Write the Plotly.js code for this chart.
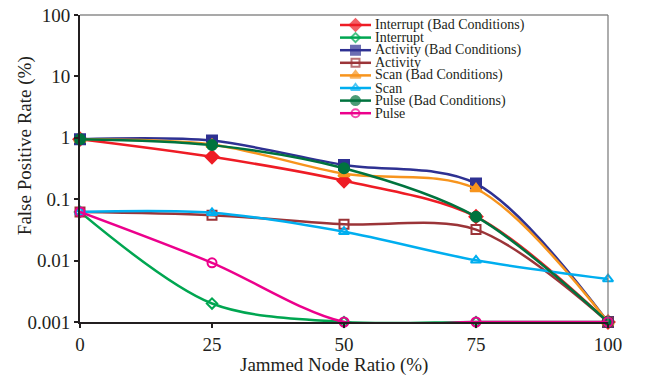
<!DOCTYPE html>
<html>
<head>
<meta charset="utf-8">
<script src="https://cdn.plot.ly/plotly-3.0.1.min.js"></script>
</head>
<body style="margin:0;padding:0;background:#fff">
<div id="chart" style="width:654px;height:376px"></div>
<script>
// ---- data ----
var ratios = [0, 25, 50, 75, 100];
var seriesNames = ["Interrupt (Bad Conditions)", "Interrupt", "Activity (Bad Conditions)", "Activity",
                   "Scan (Bad Conditions)", "Scan", "Pulse (Bad Conditions)", "Pulse"];
var interruptBad = [0.95, 0.49, 0.20, 0.052, 0.001];
var interrupt    = [0.062, 0.0020, 0.001, 0.001, 0.001];
var activityBad  = [0.95, 0.90, 0.36, 0.18, 0.001];
var activity     = [0.062, 0.055, 0.039, 0.032, 0.001];
var scanBad      = [0.95, 0.78, 0.26, 0.148, 0.001];
var scan         = [0.062, 0.060, 0.0295, 0.0101, 0.005];
var pulseBad     = [0.95, 0.76, 0.32, 0.052, 0.001];
var pulse        = [0.062, 0.0092, 0.001, 0.001, 0.001];
var yTickVals = [0.001, 0.01, 0.1, 1, 10, 100];
var yTickText = ["0.001", "0.01", "0.1", "1", "10", "100"];
var xTickVals = [0, 25, 50, 75, 100];
var xTitle = "Jammed Node Ratio (%)";
var yTitle = "False Positive Rate (%)";

// ---- styles ----
var values  = [interruptBad, interrupt, activityBad, activity, scanBad, scan, pulseBad, pulse];
var colors  = ["#ee1c25", "#00a651", "#2e3192", "#9b3438", "#f7941d", "#00aeef", "#00733e", "#ec008c"];
var symbols = ["diamond", "diamond-open", "square", "square-open", "triangle-up", "triangle-up-open", "circle", "circle-open"];
var sizes   = [10, 8, 10, 9, 10, 9, 10, 9];
var FONT = "Times New Roman";
var TXT = "#231f20";

var traces = [];
values.forEach(function (v, i) {
  traces.push({
    x: ratios, y: v, name: seriesNames[i], type: "scatter", mode: "lines+markers",
    line: {color: colors[i], width: 2.5, shape: "spline", smoothing: 0.9},
    marker: {symbol: symbols[i], size: sizes[i], color: colors[i], line: {color: colors[i], width: 2}},
    cliponaxis: false, showlegend: false, xaxis: "x", yaxis: "y"
  });
});

// ---- custom compact legend (overlay axes in pixel-like units) ----
var legX0 = 340, legX1 = 371, legTextX = 373, legY0 = 25, legDy = 12.6;
var annotations = [];
seriesNames.forEach(function (n, i) {
  var yy = legY0 + legDy * i;
  traces.push({
    x: [legX0, (legX0 + legX1) / 2, legX1], y: [yy, yy, yy], type: "scatter", mode: "lines+markers",
    line: {color: colors[i], width: 2.5},
    marker: {symbol: symbols[i], size: [0, sizes[i] - 1, 0], color: colors[i], line: {color: colors[i], width: 2}},
    showlegend: false, hoverinfo: "skip", xaxis: "x2", yaxis: "y2", cliponaxis: false
  });
  annotations.push({
    x: legTextX, y: yy, xref: "x2", yref: "y2", text: n, showarrow: false,
    xanchor: "left", yanchor: "middle", font: {family: FONT, size: 14, color: TXT}
  });
});

// axis titles as annotations (placed like the reference)
annotations.push({
  x: 0.481, y: -0.14, xref: "paper", yref: "paper", text: xTitle, showarrow: false,
  xanchor: "center", yanchor: "middle", font: {family: FONT, size: 19, color: TXT}
});
annotations.push({
  x: -0.104, y: 0.573, xref: "paper", yref: "paper", text: yTitle, showarrow: false, textangle: -90,
  xanchor: "center", yanchor: "middle", font: {family: FONT, size: 19, color: TXT}
});

var layout = {
  width: 654, height: 376,
  margin: {l: 80, r: 46, t: 15, b: 54},
  paper_bgcolor: "#fff", plot_bgcolor: "#fff",
  font: {family: FONT, color: TXT},
  showlegend: false,
  xaxis: {
    range: [0, 100], tickvals: xTickVals, ticktext: xTickVals.map(String),
    showgrid: false, zeroline: false, showline: true, linecolor: TXT, linewidth: 2,
    ticks: "outside", ticklen: 4, tickcolor: TXT, tickwidth: 1.5,
    tickfont: {family: FONT, size: 19, color: TXT}
  },
  yaxis: {
    type: "log", range: [-3, 2], tickvals: yTickVals, ticktext: yTickText,
    showgrid: false, zeroline: false, showline: true, linecolor: TXT, linewidth: 2,
    ticks: "outside", ticklen: 4, tickcolor: TXT, tickwidth: 1.5,
    tickfont: {family: FONT, size: 19, color: TXT}
  },
  xaxis2: {overlaying: "x", anchor: "y2", range: [80, 608], visible: false, fixedrange: true},
  yaxis2: {overlaying: "y", anchor: "x2", range: [322, 15], visible: false, fixedrange: true},
  shapes: [
    {type: "line", xref: "paper", yref: "paper", x0: 0, x1: 1, y0: 1, y1: 1, line: {color: "#555", width: 1.2}},
    {type: "line", xref: "paper", yref: "paper", x0: 1, x1: 1, y0: 0, y1: 1, line: {color: "#777", width: 1.2}}
  ],
  annotations: annotations
};

Plotly.newPlot("chart", traces, layout, {displayModeBar: false}).then(function () {
  document.querySelectorAll("#chart text").forEach(function (t) {
    t.style.setProperty("font-family", "'Liberation Serif', 'Times New Roman', serif", "important");
  });
});
</script>
</body>
</html>
